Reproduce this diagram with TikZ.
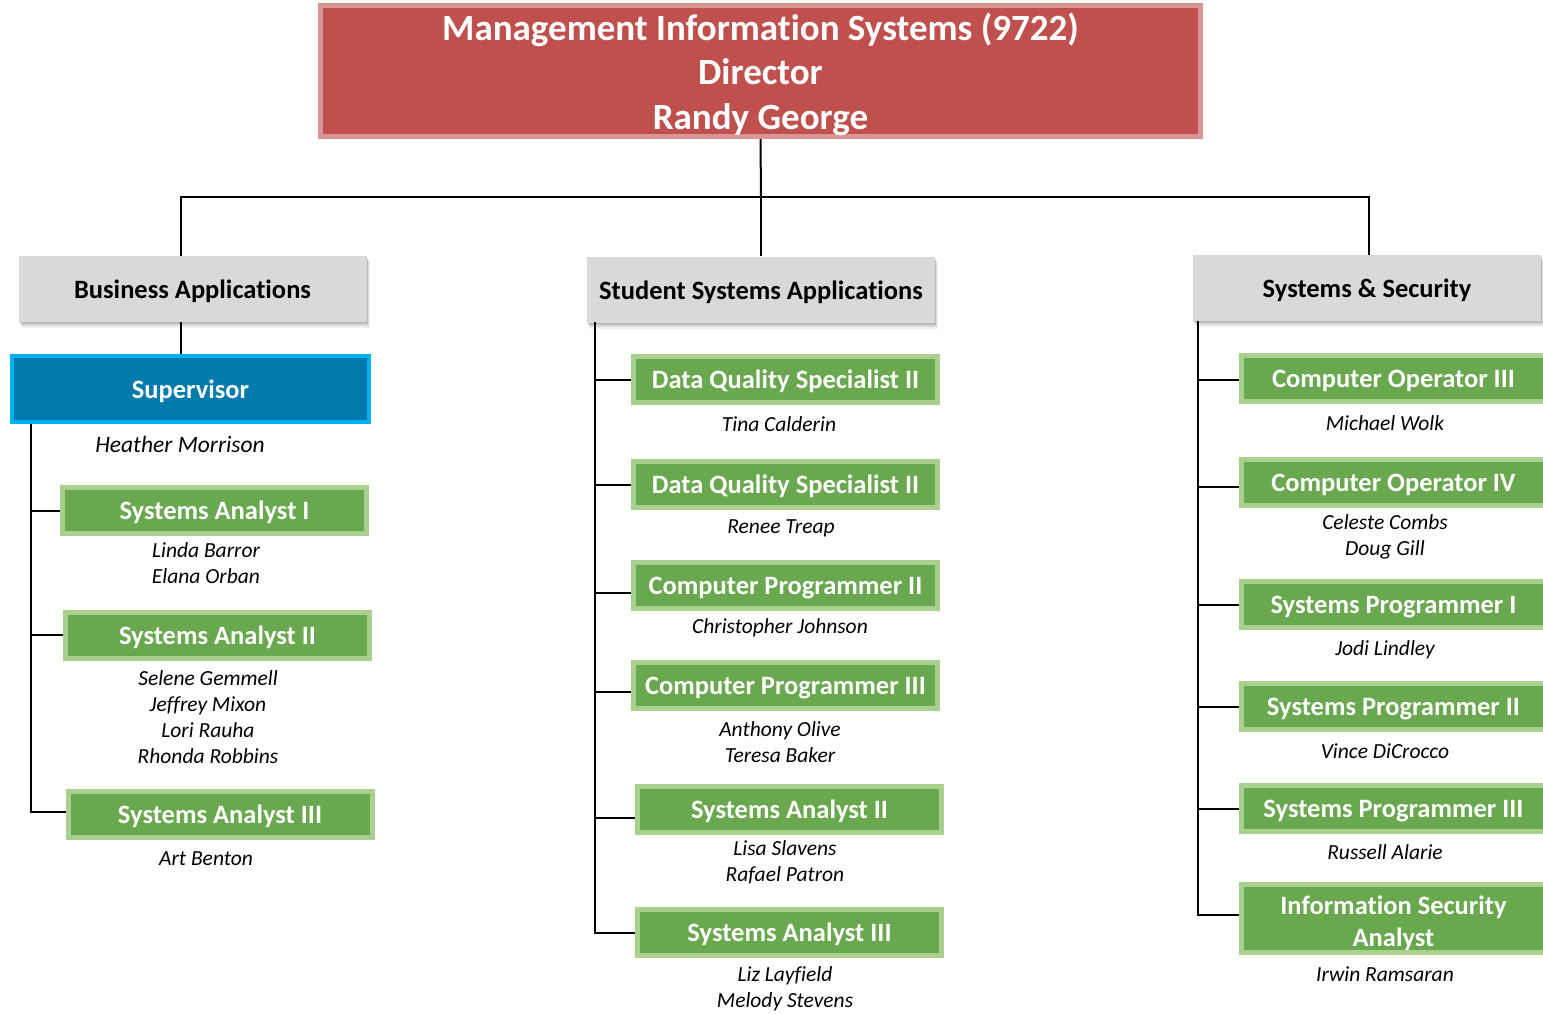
\documentclass[tikz,border=0pt]{standalone}
\usepackage{fontspec}
\setmainfont{Carlito}[Ligatures={NoCommon}]
\usetikzlibrary{shadows,calc}
\definecolor{titlefill}{HTML}{C0504D}
\definecolor{titleline}{HTML}{D99694}
\definecolor{grayfill}{HTML}{D9D9D9}
\definecolor{supfill}{HTML}{007BAC}
\definecolor{supline}{HTML}{00B0F0}
\definecolor{greenfill}{HTML}{6AA84F}
\definecolor{greenline}{HTML}{A9D08E}
\newcommand{\orgboxfont}{\fontsize{26.5}{32}\selectfont\bfseries}
\newcommand{\orgnamefont}{\fontsize{21.5}{26}\selectfont\itshape}
\begin{document}
\begin{tikzpicture}[x=1pt,y=-1pt,
  titlebox/.style={draw=titleline, line width=5pt, fill=titlefill, text=white,
    font={\fontsize{37}{44.5}\selectfont\bfseries}, align=center,
    minimum width=880pt, minimum height=131pt, inner sep=0pt},
  headbox/.style={fill=grayfill, minimum width=348pt, minimum height=66pt, inner sep=0pt,
    font=\orgboxfont, text height=21pt, text depth=2pt,
    drop shadow={shadow xshift=3pt, shadow yshift=-6pt, opacity=0.12},
    drop shadow={shadow xshift=2pt, shadow yshift=-4pt, opacity=0.2},
    drop shadow={shadow xshift=1pt, shadow yshift=-2pt, opacity=0.35}},
  supbox/.style={draw=supline, line width=4pt, fill=supfill, text=white, font=\orgboxfont,
    minimum width=357pt, minimum height=66pt, inner sep=0pt, text height=20pt, text depth=2pt},
  rolestyle/.style={draw=greenline, line width=5pt, fill=greenfill, text=white, font=\orgboxfont,
    minimum width=304pt, minimum height=46pt, inner sep=0pt, align=center},
  rolebox/.style={rolestyle, text height=20pt, text depth=2pt},
  person/.style={font=\orgnamefont, align=center, inner sep=0pt, yshift=-1.5pt},
  link/.style={draw=black, line width=2pt}
]
\useasboundingbox (0,0) rectangle (1543,1013);

% title
\node[titlebox] (title) at (760.5,71) {\rule{0pt}{34pt}Management Information Systems (9722)\\Director\\Randy George};

% department headers
\node[headbox] (ba) at (192.5,289) {Business Applications};
\node[headbox] (ssa) at (761,289.5) {Student Systems Applications};
\node[headbox] (ss) at (1367,288) {Systems \& Security};

% top connectors
\coordinate (hub) at (761,197);
\draw[link] (title.south) -- (hub);
\draw[link] (hub) -| ($(ba.north)+(-11.5,0)$);
\draw[link] (hub) -- (ssa.north);
\draw[link] (hub) -| ($(ss.north)+(2,0)$);

% Business Applications column
\node[supbox] (sup) at (190.5,389) {Supervisor};
\draw[link] ($(ba.south)+(-11.5,0)$) -- ($(sup.north)+(-9.5,0)$);
\node[person, font={\fontsize{23.5}{28}\selectfont\itshape}] (heather) at (180,443) {Heather Morrison};

\node[rolebox] (bsa1) at (214.5,510.5) {Systems Analyst I};
\node[person] (bsa1p) at (206,562) {Linda Barror\\Elana Orban};
\node[rolebox] (bsa2) at (217.5,635) {Systems Analyst II};
\node[person] (bsa2p) at (208,715.5) {Selene Gemmell\\Jeffrey Mixon\\Lori Rauha\\Rhonda Robbins};
\node[rolebox] (bsa3) at (220,814.5) {Systems Analyst III};
\node[person] (bsa3p) at (206,857) {Art Benton};

\coordinate (lv) at (31,424);
\draw[link] (lv) |- (bsa1.west);
\draw[link] (lv) |- (bsa2.west);
\draw[link] (lv) |- ([yshift=2.5pt]bsa3.west);

% Student Systems Applications column
\node[rolebox] (dq1) at (785.5,379.5) {Data Quality Specialist II};
\node[person] (dq1p) at (779,423) {Tina Calderin};
\node[rolebox] (dq2) at (785.5,484.5) {Data Quality Specialist II};
\node[person] (dq2p) at (781,527) {Renee Treap};
\node[rolebox] (cp2) at (785.5,585) {Computer Programmer II};
\node[person] (cp2p) at (780,626) {Christopher Johnson};
\node[rolebox] (cp3) at (785.5,685.5) {Computer Programmer III};
\node[person] (cp3p) at (780,741) {Anthony Olive\\Teresa Baker};
\node[rolebox] (msa2) at (789.5,809.5) {Systems Analyst II};
\node[person] (msa2p) at (785,861) {Lisa Slavens\\Rafael Patron};
\node[rolebox] (msa3) at (789.5,932.5) {Systems Analyst III};
\node[person] (msa3p) at (785,987) {Liz Layfield\\Melody Stevens};

\coordinate (mv) at (595,322);
\draw[link] (mv) |- (dq1.west);
\draw[link] (mv) |- (dq2.west);
\draw[link] (mv) |- ([yshift=-8pt]cp2.west);
\draw[link] (mv) |- ([yshift=-6.5pt]cp3.west);
\draw[link] (mv) |- ([yshift=-8.5pt]msa2.west);
\draw[link] (mv) |- (msa3.west);

% Systems & Security column
\node[rolebox] (co3) at (1393.5,378.5) {Computer Operator III};
\node[person] (co3p) at (1385,422) {Michael Wolk};
\node[rolebox] (co4) at (1393.5,482.5) {Computer Operator IV};
\node[person] (co4p) at (1385,535) {Celeste Combs\\Doug Gill};
\node[rolebox] (sp1) at (1393.5,604.5) {Systems Programmer I};
\node[person] (sp1p) at (1385,648) {Jodi Lindley};
\node[rolebox] (sp2) at (1393.5,706.5) {Systems Programmer II};
\node[person] (sp2p) at (1385,750) {Vince DiCrocco};
\node[rolebox] (sp3) at (1393.5,808.5) {Systems Programmer III};
\node[person] (sp3p) at (1385,851) {Russell Alarie};
\node[rolestyle, minimum height=68pt] (isa) at (1393.5,918.5) {\rule{0pt}{28pt}Information Security\\Analyst};
\node[person] (isap) at (1385,973) {Irwin Ramsaran};

\coordinate (rv) at (1198,321);
\draw[link] (rv) |- ([yshift=-1.5pt]co3.west);
\draw[link] (rv) |- ([yshift=-4.5pt]co4.west);
\draw[link] (rv) |- (sp1.west);
\draw[link] (rv) |- (sp2.west);
\draw[link] (rv) |- (sp3.west);
\draw[link] (rv) |- ([yshift=3.5pt]isa.west);
\end{tikzpicture}
\end{document}
